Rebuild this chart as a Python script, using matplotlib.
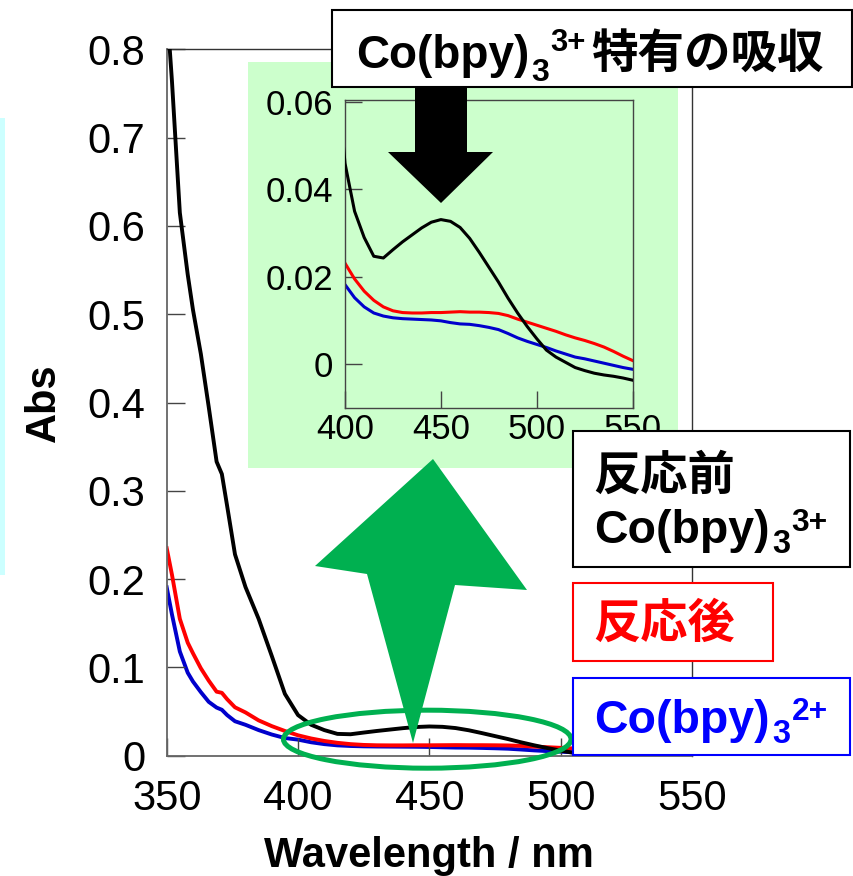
import matplotlib
matplotlib.use("Agg")
import matplotlib.pyplot as plt
from matplotlib.patches import Rectangle, Polygon, Ellipse

plt.rcParams['font.family'] = ['Liberation Sans', 'Noto Sans CJK JP', 'DejaVu Sans']

# ---------------- data ----------------
wavelength = [350, 352, 355, 358, 360, 363, 366, 369, 371, 373, 376, 380, 385, 390, 395,
              400, 405, 410, 415, 420, 425, 430, 435, 440, 445, 450, 455, 460, 465, 470,
              475, 480, 485, 490, 495, 500, 505, 510, 515, 520, 525, 530, 535, 540, 545, 550]

abs_before = [0.850, 0.764, 0.615, 0.545, 0.505, 0.455, 0.395, 0.333, 0.319, 0.283, 0.228,
              0.191, 0.155, 0.113, 0.070,
              0.0460, 0.0350, 0.0290, 0.0247, 0.0243, 0.0262, 0.0280, 0.0296, 0.0312, 0.0325,
              0.0331, 0.0327, 0.0313, 0.0288, 0.0256, 0.0222, 0.0188, 0.0151, 0.0117, 0.0086,
              0.0058, 0.0032, 0.0016, 0.0004, -0.0008, -0.0015, -0.0021, -0.0025, -0.0028,
              -0.0032, -0.0037]

abs_after = [0.235, 0.205, 0.155, 0.128, 0.116, 0.099, 0.085, 0.0725, 0.0712, 0.064, 0.0548,
             0.049, 0.040, 0.0335, 0.028,
             0.0231, 0.0195, 0.0167, 0.0146, 0.0131, 0.0122, 0.0118, 0.0117, 0.0117, 0.0118,
             0.0118, 0.0119, 0.0120, 0.0119, 0.0119, 0.0118, 0.0116, 0.0111, 0.0103, 0.0096,
             0.0089, 0.0082, 0.0075, 0.0067, 0.0060, 0.0054, 0.0047, 0.0039, 0.0029, 0.0018,
             0.0008]

abs_co2 = [0.1907, 0.160, 0.118, 0.094, 0.084, 0.072, 0.061, 0.0545, 0.052, 0.046, 0.039,
           0.035, 0.029, 0.024, 0.020,
           0.0182, 0.0152, 0.0131, 0.0117, 0.0110, 0.0106, 0.0104, 0.0103, 0.0102, 0.0101,
           0.0099, 0.0095, 0.0092, 0.0091, 0.0088, 0.0084, 0.0079, 0.0070, 0.0060, 0.0052,
           0.0045, 0.0038, 0.0030, 0.0023, 0.0016, 0.0012, 0.0007, 0.0002, -0.0003, -0.0008,
           -0.0012]

main_xticks = [350, 400, 450, 500, 550]
main_yticks = [0, 0.1, 0.2, 0.3, 0.4, 0.5, 0.6, 0.7, 0.8]
main_ylabels = ["0", "0.1", "0.2", "0.3", "0.4", "0.5", "0.6", "0.7", "0.8"]
inset_xticks = [400, 450, 500, 550]
inset_yticks = [0, 0.02, 0.04, 0.06]
inset_ylabels = ["0", "0.02", "0.04", "0.06"]

x_label = "Wavelength / nm"
y_label = "Abs"
complex_base = "Co(bpy)"
complex_sub = "3"
charge_3 = "3+"
charge_2 = "2+"
title_jp = "特有の吸収"
legend_before = "反応前"
legend_after = "反応後"

C_BLACK = "black"
C_RED = "#FF0000"
C_BLUE = "#0000CC"
C_TEXT_BLUE = "#0000FF"
C_GREEN = "#00B050"

# ---------------- figure ----------------
W, H = 854, 876
fig = plt.figure(figsize=(W / 100, H / 100), dpi=100)


def frac(x0, y0, x1, y1):
    return [x0 / W, 1 - y1 / H, (x1 - x0) / W, (y1 - y0) / H]


# main axes
ax = fig.add_axes(frac(166.7, 49.3, 692, 755.7), zorder=0)
ax.plot(wavelength, abs_before, color=C_BLACK, lw=2.8, zorder=3)
ax.plot(wavelength, abs_after, color=C_RED, lw=2.8, zorder=2)
ax.plot(wavelength, abs_co2, color=C_BLUE, lw=2.8, zorder=1)
ax.set_xlim(350, 550)
ax.set_ylim(0, 0.8)
ax.set_xticks(main_xticks)
ax.set_yticks(main_yticks, labels=main_ylabels)
ax.tick_params(axis='both', direction='in', length=13, width=1, color='#444444', labelsize=30)
ax.tick_params(axis='y', pad=15.5)
ax.tick_params(axis='x', pad=17)
for s in ['left', 'bottom']:
    ax.spines[s].set_color('#666666')
    ax.spines[s].set_linewidth(1.3)
for s in ['top', 'right']:
    ax.spines[s].set_color('#333333')
    ax.spines[s].set_linewidth(1.0)
ax.set_xlabel(x_label, fontsize=30, fontweight='bold')
ax.set_ylabel(y_label, fontsize=30, fontweight='bold')
ax.xaxis.set_label_coords(0.5, -0.113)
ax.yaxis.set_label_coords(-0.195, 0.5)

# highlight ellipse around the low-absorbance region
ax.add_patch(Ellipse((449.2, 0.0187), 109.5, 0.0657, facecolor='none', edgecolor=C_GREEN,
                     lw=3.6, clip_on=False, zorder=5))

# background layer (green inset panel, cyan strip)
ax_bg = fig.add_axes([0, 0, 1, 1], zorder=1)
ax_bg.set_xlim(0, W)
ax_bg.set_ylim(H, 0)
ax_bg.axis('off')
ax_bg.add_patch(Rectangle((248, 62), 429.7, 405.7, facecolor='#CCFFCC', edgecolor='none'))
ax_bg.add_patch(Rectangle((0, 118), 5, 457, facecolor='#CCFFFF', edgecolor='none'))

# inset axes
ax_in = fig.add_axes(frac(345, 100, 632.7, 407.7), zorder=2)
ax_in.set_facecolor('none')
ax_in.plot(wavelength, abs_before, color=C_BLACK, lw=2.2, zorder=3)
ax_in.plot(wavelength, abs_after, color=C_RED, lw=2.2, zorder=2)
ax_in.plot(wavelength, abs_co2, color=C_BLUE, lw=2.2, zorder=1)
ax_in.set_xlim(400, 550)
ax_in.set_ylim(-0.01, 0.0605)
ax_in.set_xticks(inset_xticks)
ax_in.set_yticks(inset_yticks, labels=inset_ylabels)
ax_in.tick_params(axis='both', direction='in', length=12, width=1, color='#444444', labelsize=25)
ax_in.tick_params(axis='y', pad=8.5)
ax_in.tick_params(axis='x', pad=3.5)
for s in ax_in.spines.values():
    s.set_color('#444444')
    s.set_linewidth(1.0)

# overlay layer (arrows, boxes, labels)
ax_o = fig.add_axes([0, 0, 1, 1], zorder=3)
ax_o.set_xlim(0, W)
ax_o.set_ylim(H, 0)
ax_o.axis('off')


def chem_label(x, y, size, charge, color, sub_gap, sub_drop, sup_gap, sup_rise):
    kw = dict(fontweight='bold', family='Liberation Sans', color=color,
              ha='left', va='baseline')
    t = ax_o.text(x, y, complex_base, fontsize=size, **kw)
    s = ax_o.annotate(complex_sub, xy=(1, y), xycoords=(t, 'data'),
                      xytext=(sub_gap, -sub_drop), textcoords='offset pixels',
                      fontsize=size * 0.7, **kw)
    p = ax_o.annotate(charge, xy=(1, y), xycoords=(s, 'data'),
                      xytext=(sup_gap, sup_rise), textcoords='offset pixels',
                      fontsize=size * 0.68, **kw)
    return p


# black arrow (down)
ax_o.add_patch(Polygon([(415, 86), (467, 86), (467, 152), (493, 152), (441, 203),
                        (388, 152), (415, 152)], closed=True, facecolor='black',
                       edgecolor='none'))
# green arrow (up)
ax_o.add_patch(Polygon([(433, 459), (527, 590), (455, 585), (413, 743), (367, 574),
                        (315, 566)], closed=True, facecolor=C_GREEN, edgecolor='none'))

# title box
ax_o.add_patch(Rectangle((332, 10), 520, 77, facecolor='white', edgecolor='black', lw=1.5))
sup = chem_label(356, 68, 33, charge_3, 'black', 2, 13, 1, 17)
ax_o.annotate(title_jp, xy=(1, 68), xycoords=(sup, 'data'), xytext=(6, 0),
              textcoords='offset pixels', fontsize=33.5, fontweight='bold',
              family='Noto Sans CJK JP', ha='left', va='baseline')

# legend boxes
ax_o.add_patch(Rectangle((573, 431), 277, 136, facecolor='white', edgecolor='black', lw=1.5))
ax_o.text(593, 476, legend_before, fontsize=34, fontweight='bold', family='Noto Sans CJK JP',
          ha='left', va='center', color='black')
chem_label(594, 543, 33.5, charge_3, 'black', 3, 10, 1, 12)

ax_o.add_patch(Rectangle((573, 583), 200, 78, facecolor='white', edgecolor=C_RED, lw=1.5))
ax_o.text(593, 624, legend_after, fontsize=34, fontweight='bold', family='Noto Sans CJK JP',
          ha='left', va='center', color=C_RED)

ax_o.add_patch(Rectangle((573, 678), 277, 77, facecolor='white', edgecolor=C_TEXT_BLUE,
                         lw=1.5))
chem_label(594, 733, 33.5, charge_2, C_TEXT_BLUE, 3, 10, 1, 13)

fig.savefig("out.png", dpi=100)
